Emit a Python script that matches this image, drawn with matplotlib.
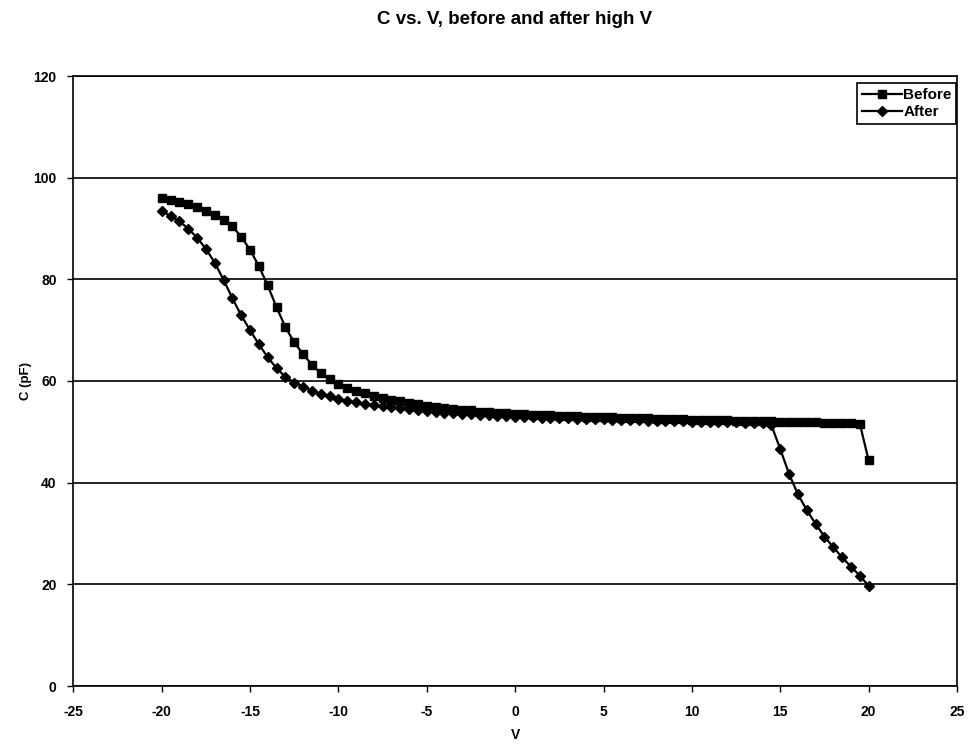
import matplotlib
matplotlib.use("Agg")
import matplotlib.pyplot as plt

plt.rcParams['font.family'] = ['Liberation Sans', 'DejaVu Sans']
plt.rcParams['font.weight'] = 'bold'

voltage = [-20.0, -19.5, -19.0, -18.5, -18.0, -17.5, -17.0, -16.5, -16.0, -15.5,
           -15.0, -14.5, -14.0, -13.5, -13.0, -12.5, -12.0, -11.5, -11.0, -10.5,
           -10.0, -9.5, -9.0, -8.5, -8.0, -7.5, -7.0, -6.5, -6.0, -5.5,
           -5.0, -4.5, -4.0, -3.5, -3.0, -2.5, -2.0, -1.5, -1.0, -0.5,
           0.0, 0.5, 1.0, 1.5, 2.0, 2.5, 3.0, 3.5, 4.0, 4.5,
           5.0, 5.5, 6.0, 6.5, 7.0, 7.5, 8.0, 8.5, 9.0, 9.5,
           10.0, 10.5, 11.0, 11.5, 12.0, 12.5, 13.0, 13.5, 14.0, 14.5,
           15.0, 15.5, 16.0, 16.5, 17.0, 17.5, 18.0, 18.5, 19.0, 19.5,
           20.0]

before = [96.0, 95.7, 95.3, 94.8, 94.2, 93.5, 92.7, 91.7, 90.4, 88.4,
          85.8, 82.6, 78.8, 74.5, 70.6, 67.6, 65.3, 63.2, 61.5, 60.3,
          59.4, 58.7, 58.1, 57.6, 57.1, 56.7, 56.3, 56.0, 55.7, 55.4,
          55.1, 54.9, 54.7, 54.5, 54.3, 54.2, 54.0, 53.9, 53.8, 53.7,
          53.6, 53.5, 53.4, 53.3, 53.3, 53.2, 53.1, 53.1, 53.0, 53.0,
          52.9, 52.9, 52.8, 52.8, 52.7, 52.7, 52.6, 52.6, 52.5, 52.5,
          52.4, 52.4, 52.4, 52.3, 52.3, 52.2, 52.2, 52.2, 52.1, 52.1,
          52.0, 52.0, 52.0, 51.9, 51.9, 51.8, 51.8, 51.8, 51.7, 51.6,
          44.4]

after = [93.4, 92.5, 91.4, 90.0, 88.2, 86.0, 83.3, 79.9, 76.3, 72.9,
         70.0, 67.2, 64.7, 62.5, 60.8, 59.7, 58.9, 58.1, 57.5, 57.0,
         56.5, 56.1, 55.8, 55.5, 55.2, 55.0, 54.8, 54.6, 54.4, 54.2,
         54.1, 53.9, 53.8, 53.7, 53.6, 53.5, 53.4, 53.3, 53.2, 53.1,
         53.0, 53.0, 52.9, 52.8, 52.8, 52.7, 52.7, 52.6, 52.6, 52.5,
         52.5, 52.4, 52.4, 52.3, 52.3, 52.2, 52.2, 52.2, 52.1, 52.1,
         52.0, 52.0, 52.0, 51.9, 51.9, 51.9, 51.8, 51.8, 51.7, 51.3,
         46.6, 41.7, 37.7, 34.6, 31.9, 29.4, 27.3, 25.3, 23.5, 21.7,
         19.7]

x_ticks = [-25, -20, -15, -10, -5, 0, 5, 10, 15, 20, 25]
y_ticks = [0, 20, 40, 60, 80, 100, 120]

fig = plt.figure(figsize=(9.68, 7.45), dpi=100)
ax = fig.add_axes([73.3 / 968, 1 - 686 / 745, (957 - 73.3) / 968, (686 - 76) / 745])

ax.plot(voltage, before, color='black', lw=1.6, marker='s', markersize=5.3,
        markerfacecolor='black', markeredgecolor='black', label='Before', zorder=3)
ax.plot(voltage, after, color='black', lw=1.6, marker='D', markersize=4.6,
        markerfacecolor='black', markeredgecolor='black', label='After', zorder=3)

ax.set_xlim(-25, 25)
ax.set_ylim(0, 120)
ax.set_xticks(x_ticks)
ax.set_yticks(y_ticks)
ax.set_xticklabels([str(t) for t in x_ticks])
ax.set_yticklabels([str(t) for t in y_ticks])
ax.tick_params(axis='both', direction='out', length=4, width=1, labelsize=10, colors='black')
ax.tick_params(axis='x', pad=10)
ax.tick_params(axis='y', pad=8)
ax.yaxis.grid(True, color='black', lw=1.2)
ax.set_axisbelow(True)
for s in ax.spines.values():
    s.set_color('black')
    s.set_linewidth(1.2)

ax.set_xlabel('V', fontsize=10, fontweight='bold', labelpad=6)
ax.set_ylabel('C (pF)', fontsize=9.5, fontweight='bold', labelpad=1)

fig.text(515 / 968, 1 - 19 / 745, 'C vs. V, before and after high V',
         ha='center', va='center', fontsize=13.5, fontweight='bold')

leg = ax.legend(loc='upper right', bbox_to_anchor=(0.999, 0.988), fancybox=False,
                frameon=True, edgecolor='black', framealpha=1, fontsize=11,
                handlelength=2.6, handletextpad=0.1, borderpad=0.3,
                labelspacing=0.2, borderaxespad=0)
leg.get_frame().set_linewidth(1.2)

fig.savefig('out.png', dpi=100)
